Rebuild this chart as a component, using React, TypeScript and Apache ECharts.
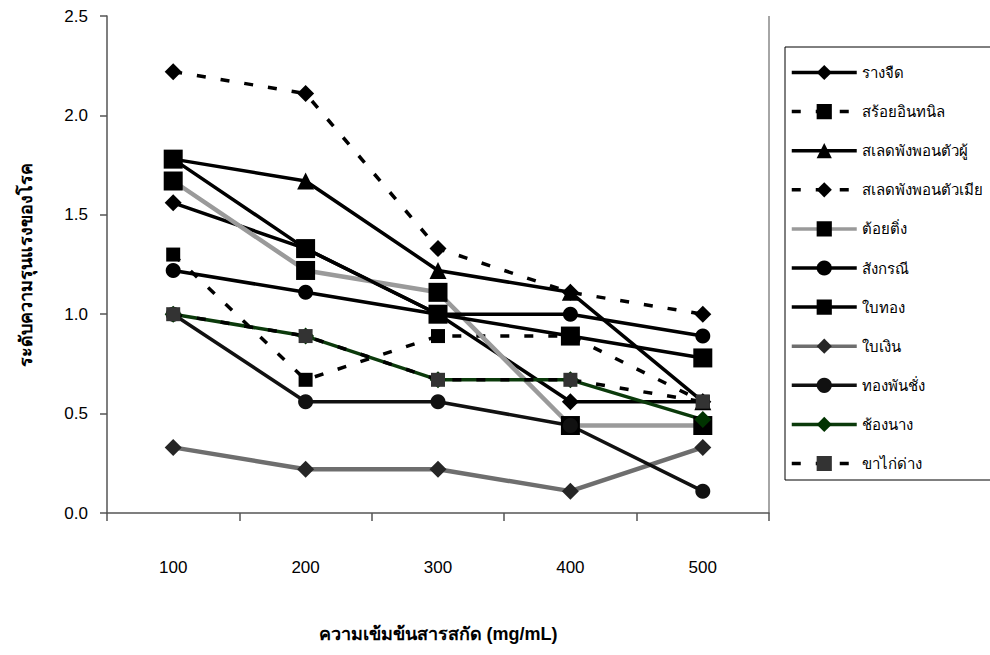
import React, { useEffect, useRef } from "react";
import * as echarts from "echarts";

const categories = ["100", "200", "300", "400", "500"];
const yTicks = [0, 0.5, 1.0, 1.5, 2.0, 2.5];

const rangJued = [1.56, 1.33, 1.0, 0.56, 0.56];
const soiIntanin = [1.3, 0.67, 0.89, 0.89, 0.56];
const saledMale = [1.78, 1.67, 1.22, 1.11, 0.56];
const saledFemale = [2.22, 2.11, 1.33, 1.11, 1.0];
const toiTing = [1.67, 1.22, 1.11, 0.44, 0.44];
const sangkanee = [1.22, 1.11, 1.0, 1.0, 0.89];
const baiThong = [1.78, 1.33, 1.0, 0.89, 0.78];
const baiNgern = [0.33, 0.22, 0.22, 0.11, 0.33];
const thongPanChang = [1.0, 0.56, 0.56, 0.44, 0.11];
const chongNang = [1.0, 0.89, 0.67, 0.67, 0.47];
const khaKaiDang = [1.0, 0.89, 0.67, 0.67, 0.56];

const FONT = "'Liberation Sans', Arial, sans-serif";
const DASH = [9, 15];

type S = {
  name: string;
  data: number[];
  symbol: string;
  size: number;
  color: string;
  lineColor: string;
  width: number;
  dashed?: boolean;
};

const seriesDefs: S[] = [
  { name: "รางจืด", data: rangJued, symbol: "diamond", size: 17, color: "#000", lineColor: "#000", width: 3.5 },
  { name: "สร้อยอินทนิล", data: soiIntanin, symbol: "rect", size: 14, color: "#000", lineColor: "#000", width: 3.5, dashed: true },
  { name: "สเลดพังพอนตัวผู้", data: saledMale, symbol: "triangle", size: 17, color: "#000", lineColor: "#000", width: 3.5 },
  { name: "สเลดพังพอนตัวเมีย", data: saledFemale, symbol: "diamond", size: 17, color: "#000", lineColor: "#000", width: 3.5, dashed: true },
  { name: "ต้อยติ่ง", data: toiTing, symbol: "rect", size: 19, color: "#000", lineColor: "#9a9a9a", width: 4.5 },
  { name: "สังกรณี", data: sangkanee, symbol: "circle", size: 15, color: "#000", lineColor: "#000", width: 3.5 },
  { name: "ใบทอง", data: baiThong, symbol: "rect", size: 19, color: "#000", lineColor: "#000", width: 3.5 },
  { name: "ใบเงิน", data: baiNgern, symbol: "diamond", size: 17, color: "#262626", lineColor: "#6e6e6e", width: 4.5 },
  { name: "ทองพันชั่ง", data: thongPanChang, symbol: "circle", size: 15, color: "#111", lineColor: "#111", width: 3.5 },
  { name: "ช้องนาง", data: chongNang, symbol: "diamond", size: 17, color: "#003300", lineColor: "#0b3a0b", width: 3.5 },
  { name: "ขาไก่ด่าง", data: khaKaiDang, symbol: "rect", size: 14, color: "#333333", lineColor: "#000", width: 3.5, dashed: true },
];

export default function App() {
  const ref = useRef<HTMLDivElement>(null);
  useEffect(() => {
    document.body.style.margin = "0";
    const chart = echarts.init(ref.current!, undefined, { renderer: "svg" });
    chart.setOption({
      animation: false,
      backgroundColor: "#fff",
      grid: { left: 107, top: 16, width: 662, height: 497, containLabel: false },
      xAxis: {
        type: "category",
        data: categories,
        boundaryGap: true,
        name: "ความเข้มข้นสารสกัด (mg/mL)",
        nameLocation: "middle",
        nameGap: 112,
        nameTextStyle: { fontSize: 18, fontWeight: "bold", color: "#000", fontFamily: FONT },
        axisLine: { lineStyle: { color: "#555", width: 1.5 } },
        axisTick: { show: true, alignWithLabel: false, length: 8, lineStyle: { color: "#555", width: 1.5 } },
        axisLabel: { margin: 46, fontSize: 17, color: "#000", fontFamily: FONT },
        splitLine: { show: false },
      },
      yAxis: {
        type: "value",
        min: 0,
        max: 2.5,
        interval: 0.5,
        name: "ระดับความรุนแรงของโรค",
        nameLocation: "middle",
        nameRotate: 90,
        nameGap: 72,
        nameTextStyle: { fontSize: 18, fontWeight: "bold", color: "#000", fontFamily: FONT },
        axisLine: { show: true, lineStyle: { color: "#555", width: 1.5 } },
        axisTick: { show: true, inside: false, length: 7, lineStyle: { color: "#555", width: 1.5 } },
        axisLabel: {
          margin: 19,
          fontSize: 17,
          color: "#000",
          fontFamily: FONT,
          formatter: (v: number) => (yTicks.includes(v) ? v.toFixed(1) : ""),
        },
        splitLine: { show: false },
      },
      legend: {
        orient: "vertical",
        left: 785,
        top: 47,
        padding: [16, 24, 7, 5],
        itemWidth: 65,
        itemHeight: 19,
        itemGap: 20.1,
        borderColor: "#000",
        borderWidth: 1,
        lineStyle: { width: 3.5 },
        textStyle: { fontSize: 15, color: "#000", fontFamily: FONT, lineHeight: 19 },
        data: seriesDefs.map((s) => s.name),
      },
      graphic: [
        {
          type: "line",
          shape: { x1: 769, y1: 16, x2: 769, y2: 513 },
          style: { stroke: "#888", lineWidth: 1.5 },
        },
      ],
      series: seriesDefs.map((s) => ({
        type: "line",
        name: s.name,
        data: s.data,
        symbol: s.symbol,
        symbolSize: s.size,
        showAllSymbol: true,
        itemStyle: { color: s.color, borderWidth: 0 },
        lineStyle: { color: s.lineColor, width: s.width, type: s.dashed ? DASH : "solid" },
        emphasis: { disabled: true },
      })),
    });
    return () => chart.dispose();
  }, []);
  return <div ref={ref} style={{ width: 990, height: 655 }} />;
}
